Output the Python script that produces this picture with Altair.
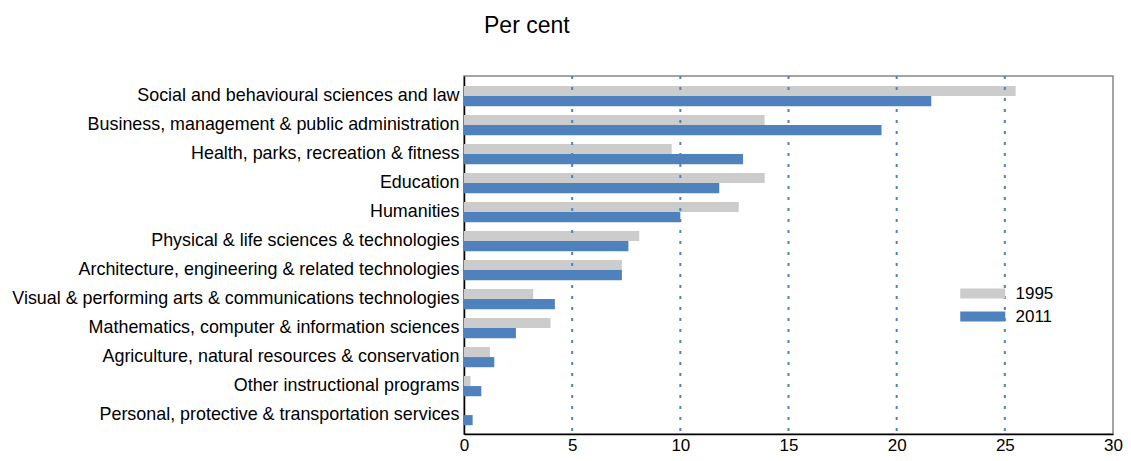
import altair as alt
import pandas as pd

categories = [
    "Social and behavioural sciences and law",
    "Business, management & public administration",
    "Health, parks, recreation & fitness",
    "Education",
    "Humanities",
    "Physical & life sciences & technologies",
    "Architecture, engineering & related technologies",
    "Visual & performing arts & communications technologies",
    "Mathematics, computer & information sciences",
    "Agriculture, natural resources & conservation",
    "Other instructional programs",
    "Personal, protective & transportation services",
]
v1995 = [25.5, 13.9, 9.6, 13.9, 12.7, 8.1, 7.3, 3.2, 4.0, 1.2, 0.3, 0.0]
v2011 = [21.6, 19.3, 12.9, 11.8, 10.0, 7.6, 7.3, 4.2, 2.4, 1.4, 0.8, 0.4]
years = ["1995", "2011"]
x_ticks = [0, 5, 10, 15, 20, 25, 30]
grid_vals = [5, 10, 15, 20, 25]

rows = []
for c, a, b in zip(categories, v1995, v2011):
    rows.append({"Field": c, "Year": "1995", "Value": a})
    rows.append({"Field": c, "Year": "2011", "Value": b})
df = pd.DataFrame(rows)

FONT = "Liberation Sans"

xscale = alt.Scale(domain=[0, 30], nice=False, zero=True)
xaxis = alt.Axis(
    title=None, values=x_ticks, grid=False, ticks=False,
    labelFontSize=17, labelColor="black", labelFont=FONT,
    domainColor="black", domainWidth=1.5, labelPadding=3,
    labelFlush=False,
)

grid = alt.Chart(pd.DataFrame({"g": grid_vals})).mark_rule(
    color="#4F81BD", strokeDash=[3, 8], strokeWidth=2
).encode(x=alt.X("g:Q", scale=xscale, axis=xaxis, title=None))

bars = alt.Chart(df).mark_bar().encode(
    y=alt.Y(
        "Field:N",
        sort=categories,
        scale=alt.Scale(paddingInner=0.3, paddingOuter=0.322, align=0.53),
        axis=alt.Axis(
            title=None, labelFontSize=17.9, labelColor="black", labelFont=FONT,
            ticks=False, domainColor="black", domainWidth=1.5, labelPadding=5,
            labelLimit=600,
        ),
    ),
    yOffset=alt.YOffset("Year:N", sort=years),
    x=alt.X("Value:Q", scale=xscale, axis=xaxis, title=None),
    color=alt.Color(
        "Year:N",
        scale=alt.Scale(domain=years, range=["#CCCCCC", "#4F81BD"]),
        legend=alt.Legend(
            title=None, orient="none", legendX=496, legendY=206,
            symbolType="M-1,-0.444H3V0.444H-1Z", symbolSize=506,
            symbolStrokeWidth=0, labelFontSize=17, labelFont=FONT,
            labelColor="black", labelOffset=32.5, rowPadding=3,
        ),
    ),
)

chart = alt.layer(bars, grid).properties(
    width=649,
    height=358,
    autosize="none",
    padding={"left": 456, "top": 68, "right": 10, "bottom": 19},
    title=alt.TitleParams(
        "Per cent", anchor="start", frame="group", dx=20, offset=37,
        fontSize=23, fontWeight="normal", font=FONT, color="black",
    ),
).configure_view(stroke="#888888", strokeWidth=1.5)

chart.save("out.html", embed_options={"renderer": "svg", "actions": False})
